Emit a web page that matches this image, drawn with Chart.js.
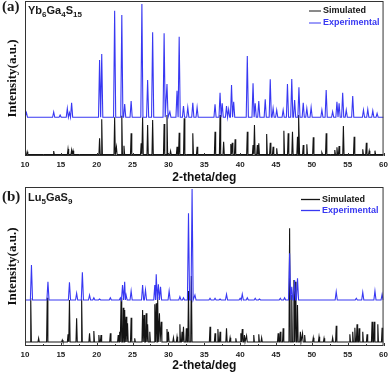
<!DOCTYPE html>
<html><head><meta charset="utf-8">
<script src="https://cdn.jsdelivr.net/npm/chart.js@4.4.0/dist/chart.umd.min.js"></script>
<style>
html,body{margin:0;padding:0;background:#fff;width:392px;height:373px;overflow:hidden;position:relative;}
canvas{position:absolute;left:0;}
#ca{top:0;}
#cb{top:186px;}
.lab{position:absolute;font-family:"Liberation Serif",serif;font-weight:bold;font-size:15px;line-height:15px;color:#1a1a1a;}
.form{position:absolute;font-family:"Liberation Sans",Arial,sans-serif;font-weight:bold;font-size:11px;line-height:11px;color:#1a1a1a;}
.form sub{font-size:8px;vertical-align:-3px;line-height:8px;}
</style></head>
<body>
<canvas id="ca" width="392" height="186"></canvas>
<canvas id="cb" width="392" height="187"></canvas>
<div class="lab" style="left:2px;top:-1px;">(a)</div>
<div class="form" style="left:28px;top:5px;">Yb<sub>6</sub>Ga<sub>4</sub>S<sub>15</sub></div>
<div class="lab" style="left:2px;top:189px;">(b)</div>
<div class="form" style="left:28px;top:192px;">Lu<sub>5</sub>GaS<sub>9</sub></div>
<script>
// ---------- DATA ----------
const xTicks = [10, 15, 20, 25, 30, 35, 40, 45, 50, 55, 60];
const seriesNames = ["Simulated", "Experimental"];

// Panel (a) Yb6Ga4S15
const aSimBase = 1.5;
const aSimPos = [10.3,14.0,16.0,16.5,16.7,20.4,20.7,22.5,22.75,23.5,23.8,24.8,26.2,26.4,27.1,27.8,29.4,29.8,30.3,31.2,31.5,32.2,33.4,34.0,36.5,37.2,37.7,38.7,38.9,39.3,41.0,41.8,42.0,42.4,42.6,43.7,44.2,44.6,45.1,46.1,46.7,47.3,48.0,48.2,48.8,49.3,50.2,51.4,52.0,53.2,53.5,53.8,54.4,55.9,57.1,57.6,58.0,58.8];
const aSimVal = [4.3,5,7,6,5.3,17.7,36.7,38.7,9,40.3,10.3,22.7,12.7,38.7,31,36,32,41,5,9.3,23.3,37.7,22.7,9.3,24.3,41,14.3,12,13.3,16.7,24.3,11,31,11,12.7,22,13.3,9.3,7.7,25.3,22.7,24.3,19.3,41,11,11.7,18.7,3.3,22.7,6,8.7,10,30,19.3,6.7,13.3,5.3,5.3];
const aExpBase = 38.7;
const aExpPos = [10.2,14.0,14.9,15.9,16.2,16.5,20.4,20.7,22.5,23.5,23.9,24.8,26.3,27.1,27.8,29.4,29.8,30.2,31.2,31.5,32.1,32.7,33.4,34.0,36.5,37.2,37.5,38.1,38.4,38.8,39.1,41.0,41.8,42.1,42.6,43.5,44.2,44.6,45.1,46.0,46.6,47.2,47.6,48.2,48.8,49.3,49.9,51.4,52.0,52.9,53.5,53.8,54.3,54.8,55.7,57.2,57.8,58.5,59.1];
const aExpVal = [43.3,44,41,47.7,43.3,53.3,96,102,145.3,141,52,55,152,76,123.7,122.7,72,44.3,65.3,119.3,50,48.7,53.3,48.7,51.7,63.3,52.7,50,46.7,71,54.3,100,72.7,52.7,55,56.7,76.7,47.7,46,46,72,77,56,68.7,53.3,47.7,48.7,46,66,44.3,54.3,52.7,63.3,46,60,46,46.7,45.3,42.7];

// Panel (b) Lu5GaS9
const bSimBase = 4;
const bSimPos = [10.8,11.9,13.1,15.2,16.0,16.2,17.2,17.9,19.0,19.6,20.3,20.6,21.9,23.0,23.2,23.4,23.7,23.9,24.1,24.3,24.8,25.3,26.4,26.6,26.9,27.1,27.4,28.1,28.3,28.5,28.75,29.0,29.8,30.0,30.7,31.2,31.6,31.9,32.1,32.5,32.8,33.2,35.8,36.5,36.9,37.2,38.1,38.6,39.4,40.1,40.3,40.6,40.9,41.9,42.6,43.0,45.3,45.6,46.0,46.9,47.2,47.5,47.7,48.0,48.4,48.7,49.0,50.2,51.0,51.7,52.9,53.4,55.3,55.7,56.0,56.3,56.6,57.1,57.7,58.4,58.7,59.2,59.8];
const bSimVal = [47.7,7.7,48.3,6,11.7,46,27.7,47,12.7,15,11,11,12.7,11,14.3,47.7,38.3,36,29.3,22.7,28.3,7.7,36,31,32.7,21.7,14.3,41.7,42.7,49.3,32.7,24.3,17,14.3,8.3,9.3,21.7,14.3,19.3,17.7,55,70,19.3,12.7,17,14.3,17.7,8.3,7.7,12.7,17,11,10.3,11,11.7,8.3,12.7,14.3,17.7,117.7,51,66,64.3,41,14.3,12.7,11,8.3,9.3,7.7,8.3,20.3,11.7,14.3,18.3,21.7,17.7,14.3,11.7,24.3,24.3,21.7,18.3];
const bExpBase = 46;
const bExpPos = [10.9,13.2,16.2,17.2,18.0,19.0,19.6,20.4,21.9,23.3,23.6,23.9,24.1,24.8,26.4,26.8,28.1,28.3,28.6,28.9,30.1,31.6,32.1,32.8,33.3,33.7,35.8,36.5,37.2,38.1,40.0,40.3,41.0,42.1,42.7,45.6,46.2,46.9,47.2,47.6,48.0,53.4,56.2,57.1,58.8,59.8];
const bExpVal = [81,64.3,63.7,52.7,73.7,51,48.3,47,48.3,48.3,61,64.3,51,55,61,56,61,71.7,61.7,59.3,55,49.3,48.3,132.7,157,51,47.7,47.7,47,51.7,47.7,52,48.3,47.7,47,47.7,48.3,92.7,59.3,66,67.7,54.3,47.7,53.7,55,51.7];

// ---------- BUILD ----------
const X_MIN = xTicks[0], X_MAX = xTicks[xTicks.length - 1];
function profile(pos, val, base, hw) {
  const idx = pos.map((p, i) => i).sort((a, b) => pos[a] - pos[b]);
  const pts = [{x: X_MIN, y: base}];
  idx.forEach((i, k) => {
    const prev = k > 0 ? pos[idx[k - 1]] : -Infinity;
    const next = k < idx.length - 1 ? pos[idx[k + 1]] : Infinity;
    const lx = Math.max(pos[i] - hw, (pos[i] + prev) / 2);
    const rx = Math.min(pos[i] + hw, (pos[i] + next) / 2);
    pts.push({x: lx, y: base}, {x: pos[i], y: val[i]}, {x: rx, y: base});
  });
  pts.push({x: X_MAX, y: base});
  return pts;
}

const BLACK = '#141414', BLUE = '#3838f2';

function framePlugin(leg) {
  return {
    id: 'frame',
    afterDatasetsDraw(chart) {
      const {ctx, chartArea: {left, top, right, bottom}, scales: {x}} = chart;
      ctx.save();
      ctx.strokeStyle = '#333';
      ctx.lineWidth = 1;
      ctx.strokeRect(left + 0.5, top + 0.5, right - left - 1, bottom - top - 1);
      for (let v = X_MIN; v <= X_MAX + 1e-9; v += 2.5) {
        const px = Math.round(x.getPixelForValue(v)) + 0.5;
        const len = (Math.abs(v % 5) < 1e-6) ? 3 : 2;
        ctx.beginPath(); ctx.moveTo(px, bottom); ctx.lineTo(px, bottom - len); ctx.stroke();
      }
      ctx.font = 'bold 9px "Liberation Sans", Arial, sans-serif';
      ctx.textBaseline = 'middle';
      seriesNames.forEach((name, k) => {
        const ds = chart.data.datasets.find(d => d.label === name);
        const y = leg.y[k];
        ctx.strokeStyle = ds.borderColor;
        ctx.lineWidth = leg.lw;
        ctx.beginPath(); ctx.moveTo(leg.x0, y + 0.5); ctx.lineTo(leg.x1, y + 0.5); ctx.stroke();
        ctx.fillStyle = ds.borderColor;
        ctx.fillText(name, leg.tx, y + 0.5);
      });
      ctx.restore();
    }
  };
}

function makeChart(id, sim, exp, yMax, axisH, titlePadBottom, leg) {
  return new Chart(document.getElementById(id), {
    type: 'line',
    data: {
      datasets: [
        {label: seriesNames[1], data: exp, borderColor: BLUE, borderWidth: 1.1, pointRadius: 0, tension: 0},
        {label: seriesNames[0], data: sim, borderColor: BLACK, borderWidth: 1.1, pointRadius: 0, tension: 0}
      ]
    },
    options: {
      responsive: false, animation: false, devicePixelRatio: 1,
      layout: {padding: {top: 1, right: 6, left: 0, bottom: 0}},
      plugins: {legend: {display: false}, tooltip: {enabled: false}},
      scales: {
        x: {
          type: 'linear', min: X_MIN, max: X_MAX,
          afterBuildTicks: s => { s.ticks = xTicks.map(v => ({value: v})); },
          ticks: {font: {family: '"Liberation Sans", Arial, sans-serif', weight: 'bold', size: 8}, color: '#222', padding: 4, maxRotation: 0, autoSkip: false},
          grid: {display: false, drawTicks: false},
          border: {display: false},
          title: {display: true, text: '2-theta/deg', font: {family: '"Liberation Sans", Arial, sans-serif', weight: 'bold', size: 12}, color: '#111', padding: {top: 0, bottom: titlePadBottom}},
          afterFit: s => { s.height = axisH; }
        },
        y: {
          min: 0, max: yMax,
          ticks: {display: false},
          grid: {display: false, drawTicks: false},
          border: {display: false},
          title: {display: true, text: 'Intensity(a.u.)', font: {family: '"Liberation Serif", serif', weight: 'bold', size: 13}, color: '#111', padding: {top: 5, bottom: 0}},
          afterFit: s => { s.width = 25; }
        }
      }
    },
    plugins: [framePlugin(leg)]
  });
}

makeChart('ca',
  profile(aSimPos, aSimVal, aSimBase, 0.09),
  profile(aExpPos, aExpVal, aExpBase, 0.15),
  155, 30, 1,
  {x0: 309, x1: 321, tx: 323, y: [10.5, 22.5], lw: 1});

makeChart('cb',
  profile(bSimPos, bSimVal, bSimBase, 0.09),
  profile(bExpPos, bExpVal, bExpBase, 0.15),
  159, 27, 0,
  {x0: 301, x1: 320, tx: 322, y: [13, 24], lw: 1.3});
</script>
</body></html>
